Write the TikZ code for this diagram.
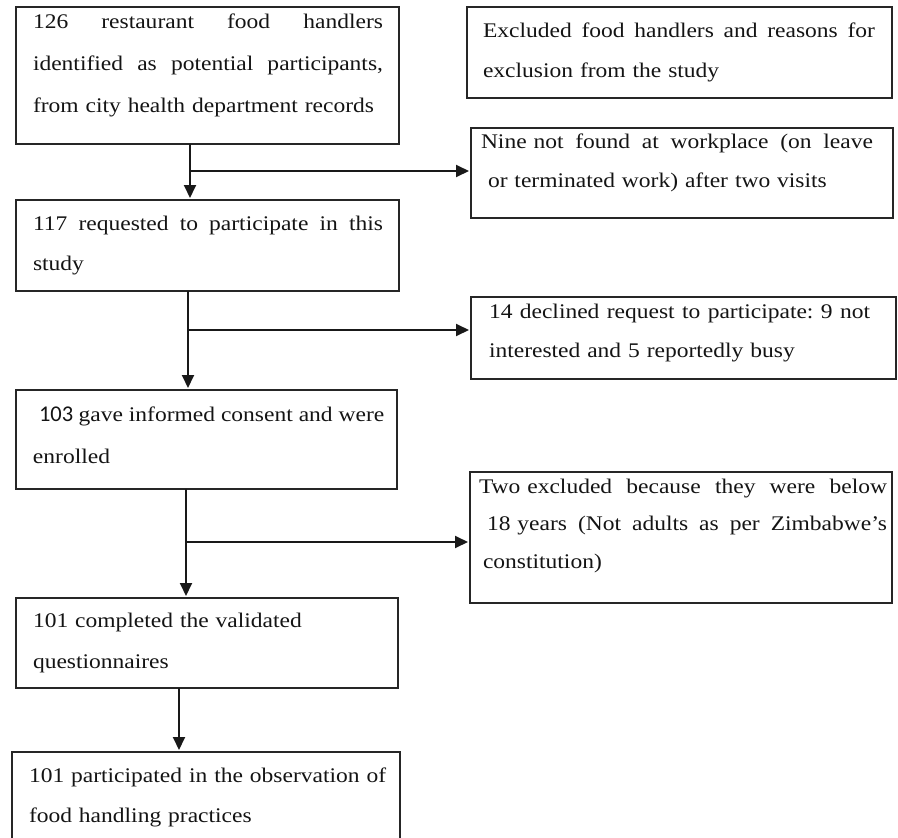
\documentclass[tikz,border=0pt]{standalone}
\usepackage{fontspec}
\setmainfont[FakeStretch=1.13]{Liberation Serif}
\newfontfamily\calib{Carlito}
\usetikzlibrary{arrows.meta}
\tikzset{
  box/.style={draw=black!85, line width=1.1pt, anchor=north west, inner sep=0pt, outer sep=0pt},
  txt/.style={anchor=base west, inner sep=0pt, outer sep=0pt, align=left, text=black!92,
              font={\fontsize{20.8}{#1}\selectfont}},
  arr/.style={line width=1.9pt, draw=black!90, -{Triangle[length=13pt,width=12pt]}, shorten >=2pt},
}
\begin{document}
\begin{tikzpicture}[x=1pt,y=-1pt]
\useasboundingbox (0,0) rectangle (898,838);
\clip (0,0) rectangle (898,838);
\fill[white] (0,0) rectangle (898,838);
% boxes
\node[box, minimum width=383pt, minimum height=137pt] (b1) at (16,7) {};
\node[box, minimum width=425pt, minimum height=91pt] (hdr) at (467,7) {};
\node[box, minimum width=422pt, minimum height=90pt] (nine) at (471,128) {};
\node[box, minimum width=383pt, minimum height=91pt] (b2) at (16,200) {};
\node[box, minimum width=425pt, minimum height=82pt] (dec) at (471,297) {};
\node[box, minimum width=381pt, minimum height=99pt] (b3) at (16,390) {};
\node[box, minimum width=422pt, minimum height=131pt] (two) at (470,472) {};
\node[box, minimum width=382pt, minimum height=90pt] (b4) at (16,598) {};
\node[box, minimum width=388pt, minimum height=110pt] (b5) at (12,752) {};
% texts
\node[txt=42pt, text width=350pt] (t1) at (33,28) {126\hfill restaurant\hfill food\hfill handlers\\
identified\hfill as\hfill potential\hfill participants,\\
from city health department records};
\node[txt=40pt, text width=392pt] (thdr) at (483,37) {Excluded\hfill food\hfill handlers\hfill and\hfill reasons\hfill for\\
exclusion from the study};
\node[txt=39.5pt, text width=392pt] (tnine) at (481,148) {Nine not\hfill found\hfill at\hfill workplace\hfill (on\hfill leave\\
\hspace*{7pt}or terminated work) after two visits};
\node[txt=40.5pt, text width=350pt] (t2) at (33,230) {117\hfill requested\hfill to\hfill participate\hfill in\hfill this\\
study};
\node[txt=39pt, text width=381pt] (tdec) at (489,318) {14\hfill declined\hfill request\hfill to\hfill participate:\hfill 9\hfill not\\
interested and 5 reportedly busy};
\node[txt=42pt, text width=362pt] (t3) at (33,421) {\hspace*{6pt}{\calib\fontsize{22.5}{42}\selectfont 103}\hspace{-1.5pt} gave\hspace{-1pt} informed\hspace{-1pt} consent\hspace{-1pt} and\hspace{-1pt} were\\
enrolled};
\node[txt=37.5pt, text width=408pt] (ttwo) at (479,493) {Two excluded\hfill because\hfill they\hfill were\hfill below\\
\hspace*{8pt}18 years\hfill (Not\hfill adults\hfill as\hfill per\hfill Zimbabwe’s\\
\hspace*{4pt}constitution)};
\node[txt=41pt, text width=350pt] (t4) at (33,627) {101 completed the validated\\
questionnaires};
\node[txt=40pt, text width=360pt] (t5) at (29,782) {101 participated in the observation of\\
food handling practices};
% connectors
\coordinate (j1) at (190,171);
\coordinate (j2) at (188,330);
\coordinate (j3) at (186,542);
\coordinate (j4) at (179,700);
\draw[arr] (b1.south -| j1) -- (b2.north -| j1);
\draw[arr] (j1) -- (nine.west |- j1);
\draw[arr] (b2.south -| j2) -- (b3.north -| j2);
\draw[arr] (j2) -- (dec.west |- j2);
\draw[arr] (b3.south -| j3) -- (b4.north -| j3);
\draw[arr] (j3) -- (two.west |- j3);
\draw[arr] (b4.south -| j4) -- (b5.north -| j4);
\end{tikzpicture}
\end{document}
